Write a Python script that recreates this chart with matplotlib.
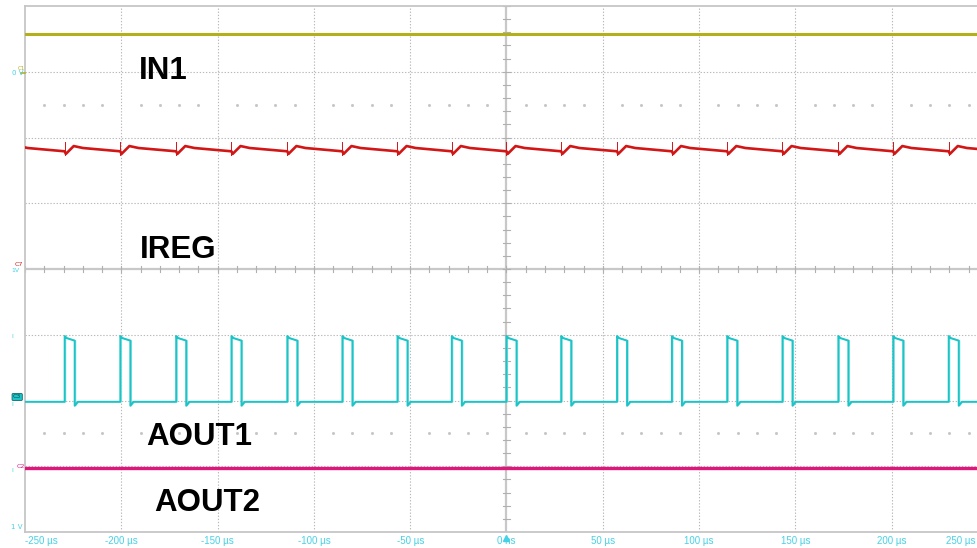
import numpy as np
import matplotlib
matplotlib.use("Agg")
import matplotlib.pyplot as plt
from matplotlib.transforms import blended_transform_factory


# ── Data (time in µs, level in screen divisions counted from the bottom) ─────

t_ticks = [-250, -200, -150, -100, -50, 0, 50, 100, 150, 200, 250]
t_tick_labels = ["-250 µs", "-200 µs", "-150 µs", "-100 µs", "-50 µs", "0 ns",
                 "50 µs", "100 µs", "150 µs", "200 µs", "250 µs"]

edge_times = [-229.4, -200.5, -171.5, -142.8, -113.8, -85.2, -56.6, -28.4, 0.0,
              28.4, 57.4, 85.9, 114.6, 143.3, 172.3, 200.8, 229.6]
pulse_width = 5.2

in1_level = 7.57

# one ripple cycle of IREG: (time after edge, level)
ireg_cycle_t = [0.0, 0.6, 4.7, 9.5]
ireg_cycle_v = [5.79, 5.75, 5.87, 5.84]
ireg_kick_span = (5.73, 5.93)

aout1_low = 1.98
aout1_high = 2.95
aout1_undershoot = 1.92

aout2_level = 0.97

trace_names = ["IN1", "IREG", "AOUT1", "AOUT2"]
name_t = [-190.8, -190.3, -187.2, -183.0]
name_baseline = [6.89, 4.17, 1.32, 0.32]

COL_IN1 = "#b3b01c"
COL_IREG = "#d21616"
COL_AOUT1 = "#1cc4c8"
COL_AOUT2 = "#e0177a"
COL_TICK = "#46d2e6"
COL_GRID = "#b9b9b9"


# ── Build traces from the read values ─────────────────────────────────────────

period = np.mean(np.diff(edge_times))
edges = [edge_times[0] - period] + list(edge_times) + [edge_times[-1] + period]

ireg_t, ireg_v = [], []
for e in edges:
    ireg_t += [e + dt for dt in ireg_cycle_t]
    ireg_v += ireg_cycle_v

a1_t, a1_v = [-260.0], [aout1_low]
for e in edge_times:
    a1_t += [e, e, e + 0.9, e + pulse_width, e + pulse_width, e + pulse_width + 1.6]
    a1_v += [aout1_low, aout1_high + 0.03, aout1_high, aout1_high - 0.04,
             aout1_undershoot, aout1_low]
a1_t.append(260.0)
a1_v.append(aout1_low)


# ── Figure ────────────────────────────────────────────────────────────────────

W, H = 977, 548
fig = plt.figure(figsize=(W / 100, H / 100), dpi=100, facecolor="white")
# right edge of the screen lies just beyond the picture (cropped)
ax = fig.add_axes([25 / W, (H - 532) / H, (988 - 25) / W, (532 - 6) / H])
ax.set_xlim(-250, 250)
ax.set_ylim(0, 8)
ax.set_facecolor("white")

for s in ["left", "top", "bottom"]:
    ax.spines[s].set_color("#c6c6c6")
    ax.spines[s].set_linewidth(1.3)
ax.spines["right"].set_visible(False)

# graticule
for t in t_ticks[1:-1]:
    if t != 0:
        ax.axvline(t, color=COL_GRID, lw=0.8, ls=(0, (1.2, 1.6)), zorder=0)
for y in range(1, 8):
    if y != 4:
        ax.axhline(y, color=COL_GRID, lw=0.8, ls=(0, (1.2, 1.6)), zorder=0)
ax.axvline(0, color="#c8c8c8", lw=1.6, zorder=0)
ax.axhline(4, color="#c8c8c8", lw=1.6, zorder=0)

# minor ticks on the centre lines
minor_t = np.arange(-250, 251, 10)
for t in minor_t:
    ax.plot([t, t], [3.95, 4.05], color="#b0b0b0", lw=0.8, zorder=0)
for y in np.arange(0, 8.01, 0.2):
    ax.plot([-1.6, 1.6], [y, y], color="#b0b0b0", lw=0.8, zorder=0)

# dot rows
dot_t = [t for t in minor_t if t % 50 != 0]
for y in [6.5, 1.5]:
    ax.plot(dot_t, [y] * len(dot_t), ls="none", marker="s", ms=1.0,
            color="#c4c4c4", zorder=0)

# traces
ax.axhline(in1_level, color=COL_IN1, lw=2.2, zorder=3)
ax.plot(ireg_t, ireg_v, color=COL_IREG, lw=1.9, zorder=3)
for e in edge_times:
    ax.plot([e, e], ireg_kick_span, color=COL_IREG, lw=0.7, zorder=3)
ax.plot(np.array(a1_t) + 0.5, a1_v, color="#8fe3e6", lw=0.9, zorder=2)
ax.plot(a1_t, a1_v, color=COL_AOUT1, lw=1.4, zorder=3)
ax.axhline(aout2_level, color=COL_AOUT2, lw=2.4, zorder=3)

# trace names
for name, t, y in zip(trace_names, name_t, name_baseline):
    ax.text(t, y, name, fontsize=22.5, fontweight="bold", family="Liberation Sans",
            ha="left", va="baseline", color="black", zorder=5)

# time axis labels
ax.set_xticks(t_ticks)
ax.set_xticklabels(t_tick_labels, fontsize=7, family="Liberation Sans", color=COL_TICK)
ax.tick_params(axis="x", length=0, pad=3)
ax.set_yticks([])
labels = ax.get_xticklabels()
labels[0].set_ha("left")
labels[-1].set_visible(False)
fig.text(975 / W, 1 - 541 / H, t_tick_labels[-1], fontsize=7, family="Liberation Sans",
         color=COL_TICK, ha="right", va="center")

# trigger marker
trans = blended_transform_factory(ax.transData, ax.transAxes)
ax.plot([0], [-0.012], marker="^", ms=4, color=COL_TICK, transform=trans, clip_on=False)

# channel markers at the left edge
def px_text(x, y, s, **kw):
    fig.text(x / W, 1 - y / H, s, va="center", **kw)

px_text(12, 73, "0 V", fontsize=5, color=COL_TICK)
px_text(18, 68, "C1", fontsize=4, color=COL_IN1)
fig.lines.append(plt.Line2D([21 / W, 25 / W], [1 - 73 / H, 1 - 73 / H],
                            transform=fig.transFigure, color=COL_IN1, lw=1.2))
px_text(15, 265, "C7", fontsize=4.5, color=COL_IREG)
px_text(11, 271, "1V", fontsize=4.5, color=COL_TICK)
px_text(11, 337, "I", fontsize=4.5, color=COL_TICK)
fig.text(13 / W, 1 - 397 / H, "C3", fontsize=4.5, color="#0a4a4a", va="center",
         bbox=dict(boxstyle="round,pad=0.15", fc=COL_AOUT1, ec="#0a6a6a", lw=0.6))
px_text(11, 405, "I", fontsize=4.5, color=COL_TICK)
px_text(17, 466, "C2", fontsize=4.5, color=COL_AOUT2)
px_text(11, 470, "I", fontsize=4.5, color=COL_TICK)
px_text(11, 527, "1 V", fontsize=5, color=COL_TICK)

fig.savefig("out.png", dpi=100, facecolor="white")
